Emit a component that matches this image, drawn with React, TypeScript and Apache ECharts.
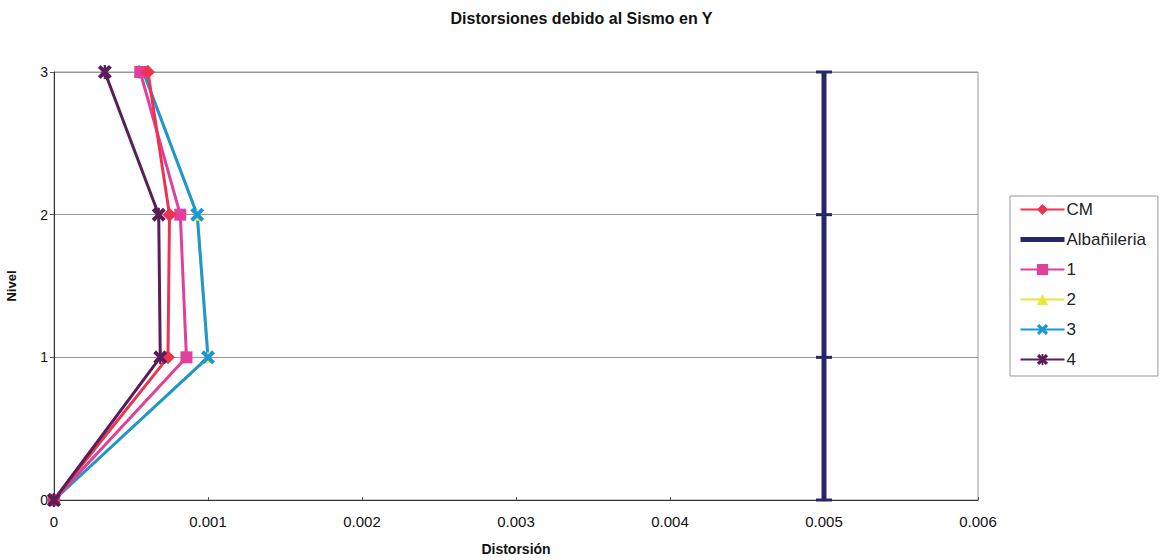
import React, { useEffect, useRef } from "react";
import * as echarts from "echarts";

const levels = [0, 1, 2, 3];
const cm = [0, 0.00074, 0.00075, 0.00061];
const albanileria = [0.005, 0.005, 0.005, 0.005];
const s1 = [0, 0.00086, 0.00082, 0.00056];
const s2 = [0, 0.001, 0.00093, 0.00058];
const s3 = [0, 0.001, 0.00093, 0.00058];
const s4 = [0, 0.00069, 0.00068, 0.00033];

const xSym = "path://M0,2 L2,0 L5,3 L8,0 L10,2 L7,5 L10,8 L8,10 L5,7 L2,10 L0,8 L3,5 Z";
const starSym =
  "path://M0,2 L2,0 L4.2,2.2 L4.2,0 L5.8,0 L5.8,2.2 L8,0 L10,2 L7,5 L10,8 L8,10 L5.8,7.8 L5.8,10 L4.2,10 L4.2,7.8 L2,10 L0,8 L3,5 Z";

const pts = (xs: number[]) => xs.map((x, i) => [x, levels[i]]);

export default function App() {
  const ref = useRef<HTMLDivElement>(null);
  useEffect(() => {
    document.body.style.margin = "0";
    const chart = echarts.init(ref.current!, null, { renderer: "svg" });
    const font = "Arial, 'Liberation Sans', sans-serif";
    chart.setOption({
      animation: false,
      backgroundColor: "#fff",
      textStyle: { fontFamily: font },
      title: {
        text: "Distorsiones debido al Sismo en Y",
        left: "center",
        top: 5,
        textStyle: { fontSize: 16, fontWeight: "bold", color: "#111", fontFamily: font },
      },
      grid: {
        left: 54,
        right: 185,
        top: 72,
        bottom: 60,
        show: true,
        borderColor: "#999",
        borderWidth: 1,
        outerBoundsMode: "none",
        containLabel: false,
      },
      legend: {
        orient: "vertical",
        left: 1010,
        top: 196,
        itemWidth: 44,
        itemHeight: 14,
        itemGap: 13,
        padding: [5, 12, 8, 8],
        borderColor: "#999",
        borderWidth: 1,
        textStyle: { fontSize: 17, color: "#222", fontFamily: font, padding: [0, 0, 0, -3] },
        data: [
          "CM",
          { name: "Albañileria", itemStyle: { opacity: 0 }, lineStyle: { width: 5 } },
          "1",
          "2",
          "3",
          "4",
        ],
      },
      xAxis: {
        type: "value",
        min: 0,
        max: 0.006,
        interval: 0.001,
        name: "Distorsión",
        nameLocation: "middle",
        nameGap: 42,
        nameTextStyle: { fontSize: 14, fontWeight: "bold", color: "#111" },
        axisLine: { lineStyle: { color: "#333", width: 1 } },
        axisTick: { show: true, inside: true, length: 3, lineStyle: { color: "#555" } },
        splitLine: { show: false },
        axisLabel: {
          fontSize: 15,
          color: "#111",
          margin: 14,
          formatter: (v: number) => (v === 0 ? "0" : v.toFixed(3)),
        },
      },
      yAxis: {
        type: "value",
        min: 0,
        max: 3,
        interval: 1,
        name: "Nivel",
        nameLocation: "middle",
        nameGap: 36,
        nameRotate: 90,
        nameTextStyle: { fontSize: 13, fontWeight: "bold", color: "#111" },
        axisLine: { show: true, lineStyle: { color: "#333", width: 1 } },
        axisTick: { show: true, length: 4, lineStyle: { color: "#555" } },
        splitLine: { show: true, lineStyle: { color: "#999", width: 1 } },
        axisLabel: { fontSize: 14, color: "#111", margin: 6 },
      },
      series: [
        {
          name: "Albañileria",
          type: "line",
          data: pts(albanileria),
          symbol: "rect",
          symbolSize: [16, 3],
          color: "#26266a",
          lineStyle: { width: 5, color: "#26266a" },
          itemStyle: { color: "#26266a" },
        },
        {
          name: "2",
          type: "line",
          data: pts(s2),
          symbol: "triangle",
          symbolSize: 12,
          color: "#e8e83a",
          lineStyle: { width: 3, color: "#e8e83a" },
          itemStyle: { color: "#e8e83a" },
        },
        {
          name: "3",
          type: "line",
          data: pts(s3),
          symbol: xSym,
          symbolSize: 14,
          color: "#1b96d6",
          lineStyle: { width: 3, color: "#1b96d6" },
          itemStyle: { color: "#1b96d6" },
        },
        {
          name: "1",
          type: "line",
          data: pts(s1),
          symbol: "rect",
          symbolSize: 12,
          color: "#e0409a",
          lineStyle: { width: 3, color: "#e0409a" },
          itemStyle: { color: "#e0409a" },
        },
        {
          name: "CM",
          type: "line",
          data: pts(cm),
          symbol: "diamond",
          symbolSize: 14,
          color: "#ee3352",
          lineStyle: { width: 3, color: "#ee3352" },
          itemStyle: { color: "#ee3352" },
        },
        {
          name: "4",
          type: "line",
          data: pts(s4),
          symbol: starSym,
          symbolSize: 14,
          color: "#5a1d58",
          lineStyle: { width: 3, color: "#5a1d58" },
          itemStyle: { color: "#5a1d58" },
        },
      ],
    });
    return () => chart.dispose();
  }, []);
  return <div ref={ref} style={{ width: 1163, height: 560 }} />;
}
